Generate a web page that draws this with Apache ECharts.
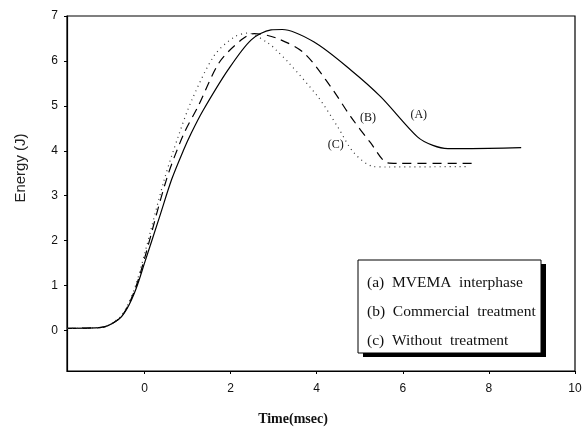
<!DOCTYPE html>
<html>
<head>
<meta charset="utf-8">
<script src="https://cdn.jsdelivr.net/npm/echarts@6/dist/echarts.min.js"></script>
<style>
  html, body { margin: 0; padding: 0; background: #fff; }
</style>
</head>
<body>
<div id="main" style="width: 587px; height: 428px"></div>
<script>
// curve (A) MVEMA interphase - solid
const timeA = [-1.8, -1.0, -0.6, -0.4, -0.2, 0, 0.35, 0.63, 0.9, 1.09, 1.35, 1.94, 2.48, 2.94, 3.2, 3.94, 4.79, 5.49, 6.34, 6.7, 7.05, 7.5, 8.75];
const energyA = [0.05, 0.07, 0.25, 0.5, 0.92, 1.5, 2.53, 3.36, 4.0, 4.4, 4.88, 5.8, 6.47, 6.69, 6.7, 6.42, 5.8, 5.2, 4.31, 4.12, 4.05, 4.05, 4.07];
// curve (B) Commercial treatment - dashed
const timeB = [-1.8, -1.0, -0.6, -0.4, -0.2, 0, 0.51, 0.9, 1.25, 1.74, 2.25, 2.55, 3.06, 3.7, 4.33, 4.79, 5.25, 5.65, 5.9, 7.6];
const energyB = [0.05, 0.07, 0.25, 0.52, 0.97, 1.6, 3.36, 4.35, 5.0, 5.97, 6.47, 6.61, 6.51, 6.18, 5.42, 4.76, 4.18, 3.73, 3.72, 3.72];
// curve (C) Without treatment - dotted
const timeC = [-1.8, -1.0, -0.6, -0.4, -0.2, 0, 0.46, 0.78, 1.1, 1.62, 2.08, 2.4, 2.87, 3.06, 3.33, 4.03, 4.49, 4.86, 5.32, 5.6, 7.5];
const energyC = [0.05, 0.07, 0.27, 0.55, 1.02, 1.7, 3.36, 4.31, 5.13, 6.12, 6.53, 6.62, 6.4, 6.24, 5.98, 5.2, 4.53, 3.96, 3.65, 3.64, 3.65];

const xTicks = [0, 2, 4, 6, 8, 10];
const yTicks = [0, 1, 2, 3, 4, 5, 6, 7];
const seriesNames = ['(a)  MVEMA  interphase', '(b)  Commercial  treatment', '(c)  Without  treatment'];
// curve tags [text, time, energy]
const tagA = ['(A)', 6.37, 4.8];
const tagB = ['(B)', 5.19, 4.73];
const tagC = ['(C)', 4.44, 4.13];

function pairs(xs, ys) {
  return xs.map((x, i) => [x, ys[i]]);
}

function tag(t) {
  return {
    symbolSize: 0,
    label: {
      show: true, position: 'inside', color: '#111',
      fontFamily: 'Liberation Serif', fontSize: 12, formatter: t[0]
    },
    data: [{coord: [t[1], t[2]]}]
  };
}

const myChart = echarts.init(document.getElementById('main'));
const option = {
  animation: false,
  backgroundColor: '#fff',
  grid: {
    left: 67, right: 12, top: 16, bottom: 57,
    outerBoundsMode: 'none',
    show: true, borderColor: '#000', borderWidth: 1.2
  },
  legend: {
    orient: 'vertical',
    left: 358, top: 260,
    z: 20,
    icon: 'none',
    itemWidth: 0,
    itemHeight: 15,
    itemGap: 13,
    padding: [15, 0, 0, 4],
    selectedMode: false,
    textStyle: {fontFamily: 'Liberation Serif', fontSize: 15.5, color: '#111'},
    data: seriesNames
  },
  xAxis: {
    type: 'value',
    min: -1.8, max: 10,
    splitLine: {show: false},
    axisLine: {onZero: false, lineStyle: {color: '#000', width: 1.2}},
    axisTick: {length: 3, customValues: xTicks, lineStyle: {color: '#000'}},
    axisLabel: {
      customValues: xTicks, margin: 12,
      fontFamily: 'Liberation Sans', fontSize: 12, color: '#111'
    },
    name: 'Time(msec)',
    nameLocation: 'middle',
    nameGap: 41,
    nameTextStyle: {fontFamily: 'Liberation Serif', fontSize: 14, fontWeight: 'bold', color: '#111', padding: [0, 56, 0, 0]}
  },
  yAxis: {
    type: 'value',
    min: -0.9, max: 7,
    splitLine: {show: false},
    axisLine: {onZero: false, lineStyle: {color: '#000', width: 1.2}},
    axisTick: {length: 3, customValues: yTicks, lineStyle: {color: '#000'}},
    axisLabel: {
      customValues: yTicks, margin: 9,
      fontFamily: 'Liberation Sans', fontSize: 12, color: '#111'
    }
  },
  graphic: [
    {
      type: 'text',
      x: 21, y: 168,
      rotation: Math.PI / 2,
      style: {
        text: 'Energy (J)', fill: '#222',
        font: '15px "Liberation Sans"',
        textAlign: 'center', textVerticalAlign: 'middle'
      }
    },
    {
      // legend drop shadow
      type: 'rect',
      z: 9,
      shape: {x: 363, y: 264, width: 183, height: 93},
      style: {fill: '#000'}
    },
    {
      // legend frame
      type: 'rect',
      z: 10,
      shape: {x: 358, y: 260, width: 183, height: 93},
      style: {fill: '#fff', stroke: '#000', lineWidth: 1}
    }
  ],
  series: [
    {
      name: seriesNames[0], type: 'line', smooth: 0.3, symbol: 'none',
      lineStyle: {color: '#000', width: 1.2},
      data: pairs(timeA, energyA),
      markPoint: tag(tagA)
    },
    {
      name: seriesNames[1], type: 'line', smooth: 0.3, symbol: 'none',
      lineStyle: {color: '#000', width: 1.2, type: [9, 6]},
      data: pairs(timeB, energyB),
      markPoint: tag(tagB)
    },
    {
      name: seriesNames[2], type: 'line', smooth: 0.3, symbol: 'none',
      lineStyle: {color: '#333', width: 1.2, type: [1, 4]},
      data: pairs(timeC, energyC),
      markPoint: tag(tagC)
    }
  ]
};
myChart.setOption(option);
</script>
</body>
</html>
